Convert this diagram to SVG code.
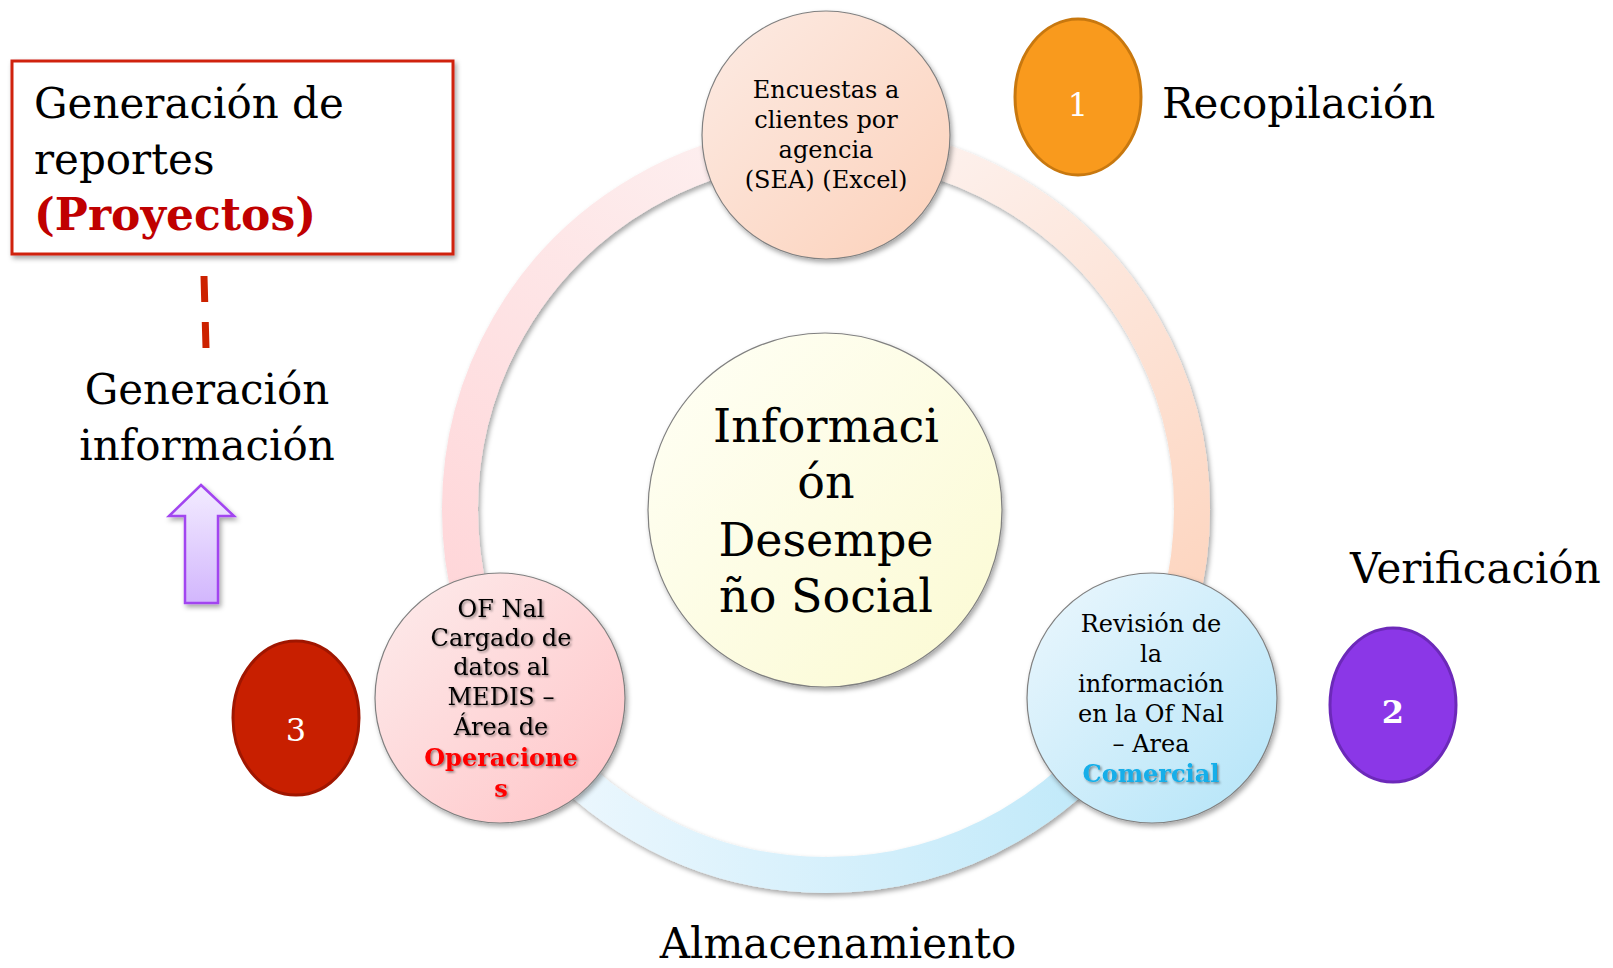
<svg xmlns="http://www.w3.org/2000/svg" width="1613" height="968" viewBox="0 0 1613 968">
<style>
text{font-family:"DejaVu Serif","Liberation Serif",serif;fill:#000}
.big{font-size:42px}
.node{font-size:24px;text-anchor:middle}
.num{font-size:32px;fill:#fff;text-anchor:middle}
.circ{stroke:#808080;stroke-width:1.2}
.ring{fill:none;stroke-width:36}
</style>
<defs>
<filter id="sh" x="-20%" y="-20%" width="140%" height="140%"><feDropShadow dx="2" dy="3" stdDeviation="2.5" flood-color="#000" flood-opacity="0.35"/></filter>
<filter id="ts" x="-10%" y="-20%" width="120%" height="150%"><feDropShadow dx="1.5" dy="1.5" stdDeviation="1" flood-color="#000" flood-opacity="0.45"/></filter>
<linearGradient id="gTR" gradientUnits="userSpaceOnUse" x1="826" y1="143" x2="1180" y2="660"><stop offset="0" stop-color="#fdf4f2"/><stop offset="1" stop-color="#fdd3bc"/></linearGradient>
<linearGradient id="gB" gradientUnits="userSpaceOnUse" x1="520" y1="760" x2="1140" y2="760"><stop offset="0" stop-color="#eff8fe"/><stop offset="1" stop-color="#bde8f9"/></linearGradient>
<linearGradient id="gL" gradientUnits="userSpaceOnUse" x1="480" y1="690" x2="826" y2="143"><stop offset="0" stop-color="#ffd3d6"/><stop offset="1" stop-color="#fdf1f1"/></linearGradient>
<linearGradient id="nTop" x1="0" y1="0" x2="1" y2="1"><stop offset="0" stop-color="#fcebe4"/><stop offset="1" stop-color="#fcd1ba"/></linearGradient>
<linearGradient id="nCen" x1="0" y1="0" x2="1" y2="1"><stop offset="0" stop-color="#fffff6"/><stop offset="1" stop-color="#fbfad2"/></linearGradient>
<linearGradient id="nLeft" x1="0" y1="0" x2="1" y2="1"><stop offset="0" stop-color="#fdecec"/><stop offset="1" stop-color="#ffc4c7"/></linearGradient>
<linearGradient id="nRight" x1="0" y1="0" x2="1" y2="1"><stop offset="0" stop-color="#ecf7fd"/><stop offset="1" stop-color="#b3e4f8"/></linearGradient>
<linearGradient id="gArrow" x1="0" y1="0" x2="0" y2="1"><stop offset="0" stop-color="#f3ecff"/><stop offset="1" stop-color="#d2b6fd"/></linearGradient>
</defs>

<g id="connectors" filter="url(#sh)">
<path class="ring" stroke="url(#gTR)" d="M 826 143 A 366 366 0 0 1 1143 692"/>
<path class="ring" stroke="url(#gB)" d="M 1143 692 A 366 366 0 0 1 509 692"/>
<path class="ring" stroke="url(#gL)" d="M 509 692 A 366 366 0 0 1 826 143"/>
</g>
<g id="dash-connector">
<line x1="204" y1="276" x2="206" y2="348" stroke="#cc2200" stroke-width="7" stroke-dasharray="26 20"/>
</g>

<g id="node-center">
<circle class="circ" cx="825" cy="510" r="177" fill="url(#nCen)" filter="url(#sh)"/>
<text style="font-size:46px;text-anchor:middle"><tspan x="826" y="442">Informaci</tspan><tspan x="826" y="498">ón</tspan><tspan x="826" y="556">Desempe</tspan><tspan x="826" y="612">ño Social</tspan></text>
</g>

<g id="node-top">
<circle class="circ" cx="826" cy="135" r="124" fill="url(#nTop)" filter="url(#sh)"/>
<text class="node"><tspan x="826" y="98">Encuestas a</tspan><tspan x="826" y="128">clientes por</tspan><tspan x="826" y="158">agencia</tspan><tspan x="826" y="188">(SEA) (Excel)</tspan></text>
</g>

<g id="node-right">
<circle class="circ" cx="1152" cy="698" r="125" fill="url(#nRight)" filter="url(#sh)"/>
<text class="node"><tspan x="1151" y="632">Revisión de</tspan><tspan x="1151" y="662">la</tspan><tspan x="1151" y="692">información</tspan><tspan x="1151" y="722">en la Of Nal</tspan><tspan x="1151" y="752">– Area</tspan><tspan x="1151" y="782" style="fill:#12aee9;font-weight:bold" filter="url(#ts)">Comercial</tspan></text>
</g>

<g id="node-left">
<circle class="circ" cx="500" cy="698" r="125" fill="url(#nLeft)" filter="url(#sh)"/>
<text class="node" filter="url(#ts)"><tspan x="501" y="617">OF Nal</tspan><tspan x="501" y="646">Cargado de</tspan><tspan x="501" y="675">datos al</tspan><tspan x="501" y="705">MEDIS –</tspan><tspan x="501" y="735">Área de</tspan><tspan x="501" y="766" style="fill:#ff0000;font-weight:bold">Operacione</tspan><tspan x="501" y="797" style="fill:#ff0000;font-weight:bold">s</tspan></text>
</g>

<g id="badge-1">
<ellipse cx="1078" cy="97" rx="63" ry="78" fill="#f99a1d" stroke="#c8780f" stroke-width="3"/>
<text class="num" x="1078" y="116">1</text>
</g>
<g id="label-recopilacion">
<text class="big" x="1162" y="118">Recopilación</text>
</g>

<g id="badge-2">
<ellipse cx="1393" cy="705" rx="63" ry="77" fill="#8b37e7" stroke="#6c29b9" stroke-width="3"/>
<text class="num" x="1393" y="723" style="font-weight:bold">2</text>
</g>
<g id="label-verificacion">
<text class="big" x="1350" y="583">Verificación</text>
</g>

<g id="badge-3">
<ellipse cx="296" cy="718" rx="63" ry="77" fill="#c81f00" stroke="#a01600" stroke-width="3"/>
<text class="num" x="296" y="741">3</text>
</g>

<g id="label-almacenamiento">
<text class="big" x="838" y="958" text-anchor="middle">Almacenamiento</text>
</g>

<g id="box-reportes">
<rect x="12" y="61" width="441" height="193" fill="#fff" stroke="#d0230e" stroke-width="3" filter="url(#sh)"/>
<text class="big" style="font-size:42px"><tspan x="34" y="118">Generación de</tspan><tspan x="34" y="174">reportes</tspan><tspan x="34" y="230" style="fill:#c00000;font-weight:bold;font-size:44px">(Proyectos)</tspan></text>
</g>

<g id="label-generacion">
<text class="big" text-anchor="middle"><tspan x="207" y="404">Generación</tspan><tspan x="207" y="460">información</tspan></text>
</g>

<g id="arrow-up">
<polygon points="201,485 234,516 218,516 218,603 185,603 185,516 169,516" fill="url(#gArrow)" stroke="#a244f0" stroke-width="2.5" stroke-linejoin="miter" filter="url(#sh)"/>
</g>
</svg>
